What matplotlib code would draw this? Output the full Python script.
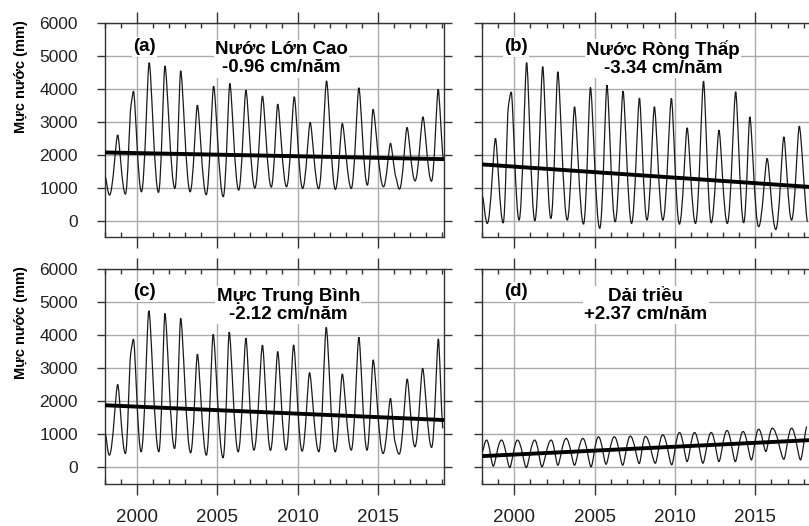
import matplotlib
matplotlib.use("Agg")
import matplotlib.pyplot as plt
from matplotlib.path import Path
from matplotlib.patches import PathPatch

plt.rcParams['font.family'] = ['Liberation Sans', 'DejaVu Sans']

# ---------------- data (turning points) ----------------
a_t = [1998.02, 1998.28, 1998.79, 1999.27, 1999.62, 1999.77, 2000.27, 2000.75, 2001.33, 2001.73,
       2002.35, 2002.71, 2003.30, 2003.75, 2004.30, 2004.76, 2005.36, 2005.77, 2006.32, 2006.77,
       2007.33, 2007.80, 2008.35, 2008.75, 2009.30, 2009.78, 2010.30, 2010.77, 2011.30, 2011.79,
       2012.34, 2012.77, 2013.33, 2013.80, 2014.33, 2014.68, 2015.33, 2015.77, 2016.10, 2016.33,
       2016.80, 2017.30, 2017.79, 2018.32, 2018.74, 2019.05]
a_v = [1330, 780, 2600, 810, 3500, 3930, 880, 4790, 860, 4690,
       980, 4545, 880, 3505, 790, 4080, 730, 4160, 930, 3960,
       990, 3780, 1020, 3535, 1030, 3758, 980, 2980, 970, 4240,
       950, 2950, 980, 4030, 1080, 3374, 1030, 2350, 1330, 960,
       2828, 1210, 3150, 1200, 3990, 1880]

b_t = [1998.02, 1998.31, 1998.82, 1999.30, 1999.62, 1999.80, 2000.29, 2000.76, 2001.27, 2001.76,
       2002.27, 2002.70, 2003.29, 2003.74, 2004.30, 2004.73, 2005.31, 2005.76, 2006.27, 2006.76,
       2007.29, 2007.78, 2008.25, 2008.71, 2009.24, 2009.77, 2010.27, 2010.75, 2011.27, 2011.77,
       2012.25, 2012.73, 2013.25, 2013.77, 2014.27, 2014.65, 2015.20, 2015.73, 2016.27, 2016.77,
       2017.25, 2017.73, 2018.23]
b_v = [730, -80, 2500, -60, 3450, 3900, 20, 4790, 0, 4670,
       70, 4515, 20, 3455, -100, 4040, -230, 4110, -30, 3930,
       -80, 3720, 20, 3455, 20, 3707, -100, 2818, -80, 4232,
       -60, 2747, -80, 3909, -60, 3152, -180, 1889, -263, 2545,
       20, 2869, -30]

c_t = [1998.02, 1998.27, 1998.79, 1999.27, 1999.60, 1999.77, 2000.25, 2000.73, 2001.35, 2001.73,
       2002.33, 2002.71, 2003.33, 2003.75, 2004.31, 2004.73, 2005.35, 2005.73, 2006.29, 2006.77,
       2007.27, 2007.80, 2008.30, 2008.75, 2009.27, 2009.74, 2010.27, 2010.73, 2011.31, 2011.77,
       2012.33, 2012.77, 2013.33, 2013.80, 2014.31, 2014.69, 2015.31, 2015.77, 2016.05, 2016.31,
       2016.81, 2017.29, 2017.77, 2018.33, 2018.75, 2019.02]
c_v = [1030, 374, 2515, 424, 3450, 3889, 475, 4747, 475, 4667,
       576, 4515, 444, 3434, 374, 4030, 293, 4101, 475, 3919,
       525, 3707, 520, 3512, 526, 3714, 496, 2874, 476, 4241,
       476, 2834, 526, 3947, 526, 3259, 425, 2095, 780, 405,
       2682, 628, 3006, 607, 3897, 1184]

d_t = [1998.00, 1998.26, 1998.68, 1999.19, 1999.71, 2000.19, 2000.74, 2001.26, 2001.71, 2002.29,
       2002.70, 2003.22, 2003.74, 2004.26, 2004.77, 2005.23, 2005.70, 2006.22, 2006.74, 2007.21,
       2007.77, 2008.15, 2008.77, 2009.23, 2009.79, 2010.27, 2010.75, 2011.21, 2011.73, 2012.25,
       2012.73, 2013.23, 2013.75, 2014.23, 2014.75, 2015.20, 2015.65, 2016.05, 2016.77, 2017.25,
       2017.81, 2018.19]
d_v = [475, 830, 40, 830, 0, 830, 0, 830, 20, 830,
       70, 880, 70, 880, 20, 930, 100, 930, 70, 950,
       120, 940, 130, 990, 80, 1060, 180, 1060, 130, 1060,
       180, 1120, 180, 1090, 230, 1160, 485, 1190, 250, 1190,
       230, 1240]

# linear trends: value in 1998 (mm) and slope (mm/year)
trend_start = [2070, 1707, 1885, 345]
trend_slope = [-9.6, -33.4, -21.2, 23.7]

panel_tags = ['(a)', '(b)', '(c)', '(d)']
panel_titles = ['Nước Lớn Cao\n-0.96 cm/năm', 'Nước Ròng Thấp\n-3.34 cm/năm',
                'Mực Trung Bình\n-2.12 cm/năm', 'Dải triều\n+2.37 cm/năm']
series_t = [a_t, b_t, c_t, d_t]
series_v = [a_v, b_v, c_v, d_v]

ylabel = 'Mực nước (mm)'
x_major = [2000, 2005, 2010, 2015]
y_major = [0, 1000, 2000, 3000, 4000, 5000, 6000]

# curve rounding at maxima / minima (a, b, c: sharp crests; d: rounded crests)
k_peak = [0.22, 0.22, 0.22, 0.42]
k_trough = [0.42, 0.42, 0.42, 0.25]


def smooth_path(t, v, kp, kt):
    """Bezier path through the data points (horizontal tangents at extremes)."""
    n = len(t)
    slope, kk = [], []
    for i in range(n):
        if 0 < i < n - 1 and (v[i] - v[i - 1]) * (v[i + 1] - v[i]) < 0:
            slope.append(0.0)
            kk.append(kp if v[i] > v[i - 1] else kt)
        else:
            j0, j1 = max(i - 1, 0), min(i + 1, n - 1)
            slope.append((v[j1] - v[j0]) / (t[j1] - t[j0]) * 0.5)
            kk.append(0.3)
    verts = [(t[0], v[0])]
    codes = [Path.MOVETO]
    for i in range(n - 1):
        dt = t[i + 1] - t[i]
        c1 = (t[i] + kk[i] * dt, v[i] + slope[i] * kk[i] * dt)
        c2 = (t[i + 1] - kk[i + 1] * dt, v[i + 1] - slope[i + 1] * kk[i + 1] * dt)
        verts += [c1, c2, (t[i + 1], v[i + 1])]
        codes += [Path.CURVE4] * 3
    return Path(verts, codes)


# ---------------- figure ----------------
W, H = 809, 526
fig = plt.figure(figsize=(W / 100, H / 100), dpi=100)

ax_w, ax_h = 339 / W, 214.6 / H
lefts = [105 / W, 482.3 / W, 105 / W, 482.3 / W]
bottoms = [1 - 237.3 / H, 1 - 237.3 / H, 1 - 484 / H, 1 - 484 / H]
tag_pos = [(0.083, 0.887), (0.065, 0.887), (0.083, 0.895), (0.065, 0.895)]
title_x = [0.521, 0.533, 0.541, 0.482]

x0, x1 = 1998.0, 2019.1
for i in range(4):
    ax = fig.add_axes([lefts[i], bottoms[i], ax_w, ax_h])
    ax.set_xlim(x0, x1)
    ax.set_ylim(-500, 6000)
    ax.set_xticks(x_major)
    ax.set_xticks(range(1998, 2020), minor=True)
    ax.set_yticks(y_major)
    ax.grid(True, which='major', color='#ababab', lw=1.0)
    ax.set_axisbelow(True)
    for s in ax.spines.values():
        s.set_color('#333333')
        s.set_linewidth(1.0)
    bottom_row = i >= 2
    left_col = i % 2 == 0
    ax.tick_params(axis='x', which='major', direction='out', length=8, width=1,
                   top=True, bottom=True, labelbottom=bottom_row, labelsize=13.5,
                   pad=10, colors='#333333', labelcolor='#222222')
    ax.tick_params(axis='x', which='minor', direction='in', length=3.5, width=1,
                   top=True, bottom=True, colors='#333333')
    ax.tick_params(axis='y', which='major', direction='out', length=5.5, width=1,
                   left=True, right=True, labelleft=left_col, labelsize=12.5,
                   pad=14, colors='#333333', labelcolor='#222222')

    ax.add_patch(PathPatch(smooth_path(series_t[i], series_v[i], k_peak[i], k_trough[i]),
                           facecolor='none', edgecolor='#1a1a1a', lw=0.9, zorder=3))
    ax.plot([x0, x1], [trend_start[i], trend_start[i] + trend_slope[i] * (x1 - x0)],
            color='black', lw=2.8, solid_capstyle='butt', zorder=4)

    ax.text(tag_pos[i][0], tag_pos[i][1], panel_tags[i], transform=ax.transAxes,
            ha='left', va='center', fontsize=13.5, fontweight='bold', zorder=5,
            bbox=dict(facecolor='white', edgecolor='none', pad=1.0))
    ax.text(title_x[i], 0.833, panel_titles[i], transform=ax.transAxes,
            ha='center', va='center', multialignment='center', linespacing=1.1,
            fontsize=13.5, fontweight='bold', zorder=5,
            bbox=dict(facecolor='white', edgecolor='none', pad=1.0))
    if left_col:
        ax.set_ylabel(ylabel, fontsize=10.5, fontweight='bold')
        ax.yaxis.set_label_coords(-0.228, 0.75)

fig.savefig('out.png', dpi=100)
